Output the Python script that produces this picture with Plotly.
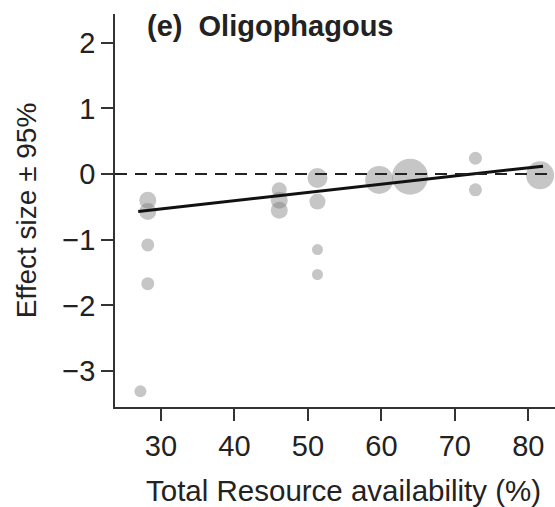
import plotly.graph_objects as go

# Data
resource = [27.2, 28.2, 28.2, 28.2, 28.2, 46.1, 46.1, 46.1, 51.3, 51.3, 51.3, 51.3,
            59.7, 63.9, 72.8, 72.8, 81.6]
effect = [-3.31, -0.40, -0.57, -1.08, -1.67, -0.24, -0.40, -0.55, -0.06, -0.42, -1.15, -1.53,
          -0.09, -0.04, 0.24, -0.24, -0.02]
weight = [12, 17, 17, 13, 13, 15, 17, 17, 20, 16, 11, 11,
          28, 36, 13, 13, 28]

fit_x = [26.9, 82.0]
fit_y = [-0.57, 0.12]

x_ticks = [30, 40, 50, 60, 70, 80]
y_ticks = [-3, -2, -1, 0, 1, 2]

font = "Liberation Sans, Arial, sans-serif"
fs = 29

fig = go.Figure()
fig.add_trace(go.Scatter(
    x=resource, y=effect, mode="markers",
    marker=dict(size=weight, color="rgba(120,120,120,0.6)", line=dict(width=0)),
    showlegend=False, hoverinfo="skip"))
fig.add_trace(go.Scatter(
    x=fit_x, y=fit_y, mode="lines",
    line=dict(color="#111111", width=3), showlegend=False))

fig.add_hline(y=0, line=dict(color="#222222", width=2, dash="12px,8px"))

fig.update_layout(
    width=555, height=507,
    margin=dict(l=115, r=0, t=14, b=100),
    paper_bgcolor="white", plot_bgcolor="white",
    font=dict(family=font, size=fs, color="#222222"),
    xaxis=dict(range=[23.74, 83.63], tickvals=x_ticks, showgrid=False, zeroline=False,
               showline=True, linecolor="#333333", linewidth=1.5,
               ticks="outside", ticklen=12, tickwidth=1.5, tickcolor="#333333"),
    yaxis=dict(range=[-3.548, 2.437], tickvals=y_ticks, showgrid=False, zeroline=False,
               showline=True, linecolor="#333333", linewidth=1.5,
               ticks="outside", ticklen=12, tickwidth=1.5, tickcolor="#333333",
               title=dict(text="Effect size ± 95%", standoff=18, font=dict(size=28))),
    annotations=[
        dict(text="<b>(e)  Oligophagous</b>", xref="paper", yref="paper",
             x=(145 - 115) / 440, y=1 - (26 - 14) / 393,
             xanchor="left", yanchor="middle", showarrow=False,
             font=dict(size=fs, color="#222222")),
        dict(text="Total Resource availability (%)", xref="paper", yref="paper",
             x=(343 - 115) / 440, y=-(490 - 407) / 393,
             xanchor="center", yanchor="middle", showarrow=False,
             font=dict(size=29.5, color="#222222")),
    ],
)

fig.write_html("out.html")
